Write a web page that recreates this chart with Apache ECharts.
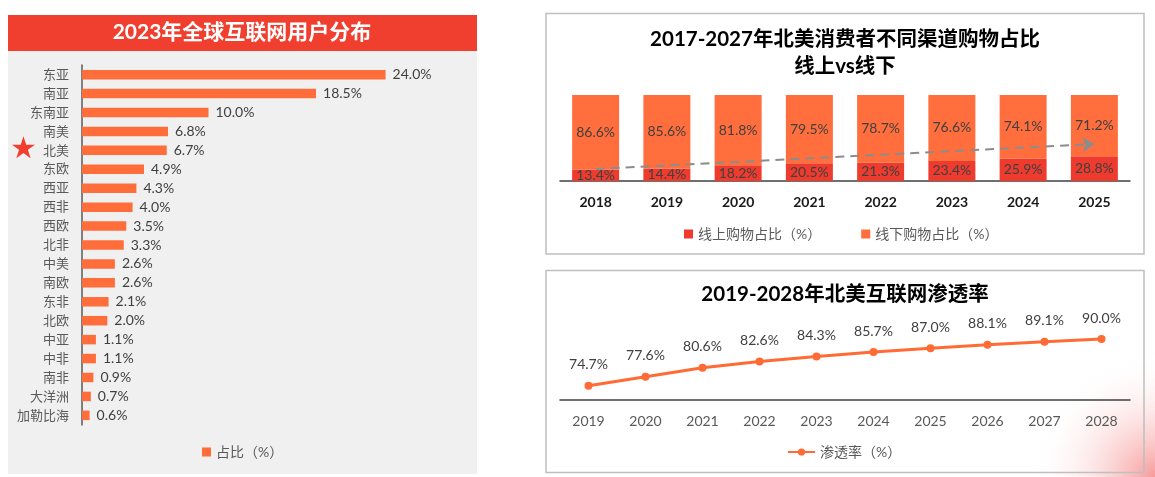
<!DOCTYPE html>
<html>
<head>
<meta charset="utf-8">
<title>北美互联网</title>
<script src="https://cdn.jsdelivr.net/npm/echarts@6/dist/echarts.min.js"></script>
<style>
  html, body { margin: 0; padding: 0; background: #fff; }
  #chart { width: 1155px; height: 477px; }
</style>
</head>
<body>
<div id="chart"></div>
<script>
  'use strict'

  /*-----data-----*/
  var regions = ['东亚', '南亚', '东南亚', '南美', '北美', '东欧', '西亚', '西非', '西欧', '北非',
                 '中美', '南欧', '东非', '北欧', '中亚', '中非', '南非', '大洋洲', '加勒比海'];
  var shares = [24.0, 18.5, 10.0, 6.8, 6.7, 4.9, 4.3, 4.0, 3.5, 3.3, 2.6, 2.6, 2.1, 2.0, 1.1, 1.1, 0.9, 0.7, 0.6];

  var shopYears = ['2018', '2019', '2020', '2021', '2022', '2023', '2024', '2025'];
  var onlineShare = [13.4, 14.4, 18.2, 20.5, 21.3, 23.4, 25.9, 28.8];
  var offlineShare = [86.6, 85.6, 81.8, 79.5, 78.7, 76.6, 74.1, 71.2];
  var trendStart = ['2018', 14];
  var trendEnd = ['2025', 43];

  var rateYears = ['2019', '2020', '2021', '2022', '2023', '2024', '2025', '2026', '2027', '2028'];
  var penetration = [74.7, 77.6, 80.6, 82.6, 84.3, 85.7, 87.0, 88.1, 89.1, 90.0];

  var FONT = 'Lato, "Noto Sans CJK SC", sans-serif';
  var pct = function (p) { return p.value.toFixed(1) + '%'; };

  var chart = echarts.init(document.getElementById('chart'));

  var option = {
    animation: false,
    textStyle: { fontFamily: FONT },
    title: [
      {
        text: '2023年全球互联网用户分布',
        left: 242, top: 22, textAlign: 'center', padding: 0,
        textStyle: { color: '#fff', fontSize: 21, fontWeight: 'bold', fontFamily: FONT }
      },
      {
        text: '2017-2027年北美消费者不同渠道购物占比\n线上vs线下',
        left: 845, top: 26, textAlign: 'center', padding: 0,
        textStyle: { color: '#000', fontSize: 20.5, fontWeight: 'bold', lineHeight: 27, fontFamily: FONT }
      },
      {
        text: '2019-2028年北美互联网渗透率',
        left: 845, top: 284, textAlign: 'center', padding: 0,
        textStyle: { color: '#000', fontSize: 20.5, fontWeight: 'bold', fontFamily: FONT }
      }
    ],
    legend: [
      {
        data: ['占比（%）'], left: 202, top: 445, icon: 'rect',
        itemWidth: 9, itemHeight: 9, padding: 0,
        textStyle: { color: '#595959', fontSize: 14 }
      },
      {
        data: ['线上购物占比（%）', '线下购物占比（%）'], left: 684, top: 227, icon: 'rect',
        itemWidth: 9, itemHeight: 9, itemGap: 40, padding: 0,
        textStyle: { color: '#595959', fontSize: 14 }
      },
      {
        data: ['渗透率（%）'], left: 787, top: 445,
        itemWidth: 27, itemHeight: 9, padding: 0,
        textStyle: { color: '#595959', fontSize: 14 }
      }
    ],
    grid: [
      { left: 82, top: 65.2, width: 379.5, height: 359.6 },
      { left: 560, top: 95, width: 570, height: 86 },
      { left: 560, top: 308.5, width: 570, height: 91.5 }
    ],
    xAxis: [
      { gridIndex: 0, type: 'value', min: 0, max: 30, show: false },
      {
        gridIndex: 1, type: 'category', data: shopYears,
        axisLine: { lineStyle: { color: '#404040', width: 1.5 } },
        axisTick: { show: false },
        axisLabel: { color: '#1a1a1a', fontSize: 14, fontWeight: 'bold', margin: 14 }
      },
      {
        gridIndex: 2, type: 'category', data: rateYears,
        axisLine: { lineStyle: { color: '#404040', width: 1.5 } },
        axisTick: { show: false },
        axisLabel: { color: '#595959', fontSize: 14, margin: 14 }
      }
    ],
    yAxis: [
      {
        gridIndex: 0, type: 'category', data: regions, inverse: true,
        axisLine: { lineStyle: { color: '#7f7f7f', width: 2 } },
        axisTick: { show: false },
        axisLabel: { color: '#595959', fontSize: 13, margin: 13 }
      },
      { gridIndex: 1, type: 'value', min: 0, max: 100, show: false },
      { gridIndex: 2, type: 'value', min: 70, max: 100, show: false }
    ],
    series: [
      {
        name: '占比（%）', type: 'bar', xAxisIndex: 0, yAxisIndex: 0,
        data: shares, barWidth: 9.5, color: '#FF6D3B',
        label: { show: true, position: 'right', distance: 7, formatter: pct, color: '#404040', fontSize: 14 }
      },
      {
        name: '线上购物占比（%）', type: 'bar', xAxisIndex: 1, yAxisIndex: 1, stack: 'shop',
        data: onlineShare, barWidth: 47, color: '#EE3B2E',
        label: { show: true, position: 'inside', formatter: pct, color: '#404040', fontSize: 14 }
      },
      {
        name: '线下购物占比（%）', type: 'bar', xAxisIndex: 1, yAxisIndex: 1, stack: 'shop',
        data: offlineShare, barWidth: 47, color: '#FF6E3C',
        label: { show: true, position: 'inside', formatter: pct, color: '#404040', fontSize: 14 },
        // dashed trend arrow drawn over both stacks
        markLine: {
          silent: true, z: 10,
          symbol: ['none', 'arrow'], symbolSize: 12,
          itemStyle: { color: '#8c8c8c' },
          lineStyle: { color: '#8c8c8c', width: 2, type: [9, 6] },
          label: { show: false },
          data: [[{ coord: trendStart }, { coord: trendEnd }]]
        }
      },
      {
        name: '渗透率（%）', type: 'line', xAxisIndex: 2, yAxisIndex: 2,
        data: penetration, color: '#FF6B35',
        symbol: 'circle', symbolSize: 8,
        lineStyle: { width: 3 },
        label: { show: true, position: 'top', distance: 10, formatter: pct, color: '#404040', fontSize: 14 }
      }
    ],
    graphic: [
      /*-----left panel-----*/
      { type: 'rect', z: -10, shape: { x: 8, y: 15, width: 469, height: 459 }, style: { fill: '#f0f0f0' } },
      { type: 'rect', z: -9, shape: { x: 8, y: 15, width: 469, height: 36 }, style: { fill: '#F03E2F' } },
      {
        type: 'text', x: 23.5, y: 150, z: 5,
        style: { text: '★', fill: '#F03E2F', fontSize: 30, align: 'center', verticalAlign: 'middle', fontFamily: 'DejaVu Sans' }
      },
      /*-----right panels-----*/
      {
        type: 'rect', z: -8,
        shape: { x: 1030, y: 350, width: 125, height: 127 },
        style: {
          fill: {
            type: 'radial', x: 1, y: 1, r: 1,
            colorStops: [
              { offset: 0, color: 'rgba(240,70,70,0.55)' },
              { offset: 1, color: 'rgba(255,255,255,0)' }
            ]
          }
        }
      },
      { type: 'rect', z: -5, shape: { x: 546, y: 13.5, width: 598, height: 240.5 }, style: { fill: 'none', stroke: '#bfbfbf', lineWidth: 1.5 } },
      { type: 'rect', z: -5, shape: { x: 546, y: 270.5, width: 598, height: 202 }, style: { fill: 'none', stroke: '#bfbfbf', lineWidth: 1.5 } }
    ]
  };

  chart.setOption(option);
</script>
</body>
</html>
